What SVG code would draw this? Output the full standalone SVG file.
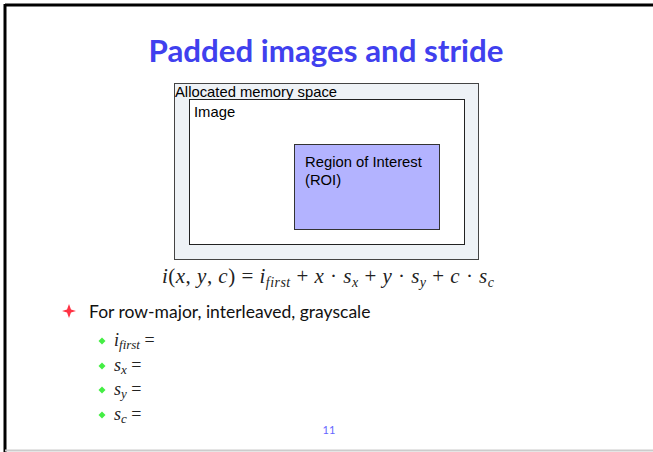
<svg xmlns="http://www.w3.org/2000/svg" width="653" height="452" viewBox="0 0 653 452">
<style>
.lbl{font-family:"Liberation Sans",Arial,sans-serif;font-size:14.8px;fill:#000}
.math{font-family:"Liberation Serif","Times New Roman",serif;font-style:italic;fill:#222}
.up{font-style:normal}
.body{font-family:Lato,"Open Sans",sans-serif;fill:#111}
</style>
<rect x="0" y="0" width="653" height="452" fill="#fff"/>
<line x1="5" y1="5" x2="653" y2="5" stroke="#000" stroke-width="3"/>
<line x1="5" y1="4" x2="5" y2="452" stroke="#000" stroke-width="3"/>
<line x1="5" y1="450.5" x2="653" y2="450.5" stroke="#ccc" stroke-width="2"/>
<text x="326" y="62" text-anchor="middle" textLength="355" lengthAdjust="spacingAndGlyphs" font-family="Lato,sans-serif" font-weight="bold" font-size="30" fill="#4040ee">Padded images and stride</text>
<g id="allocated">
<rect x="174.5" y="83.5" width="304" height="176" fill="#eef2f6" stroke="#444"/>
<text class="lbl" x="175" y="97">Allocated memory space</text>
</g>
<g id="image">
<rect x="189.5" y="99.5" width="275" height="145" fill="#fff" stroke="#222"/>
<text class="lbl" x="194" y="117">Image</text>
</g>
<g id="roi">
<rect x="294.5" y="144.5" width="145" height="85" fill="#b3b3ff" stroke="#333"/>
<text class="lbl" x="305" y="167">Region of Interest</text>
<text class="lbl" x="305" y="185">(ROI)</text>
</g>
<g id="connectors"></g>
<text class="math" x="162" y="283" font-size="21" textLength="332" lengthAdjust="spacing">i<tspan class="up">(</tspan>x<tspan class="up">, </tspan>y<tspan class="up">, </tspan>c<tspan class="up">) = </tspan>i<tspan font-size="14" dy="4">first</tspan><tspan class="up" dy="-4"> + </tspan>x<tspan class="up"> · </tspan>s<tspan font-size="14" dy="4">x</tspan><tspan class="up" dy="-4"> + </tspan>y<tspan class="up"> · </tspan>s<tspan font-size="14" dy="4">y</tspan><tspan class="up" dy="-4"> + </tspan>c<tspan class="up"> · </tspan>s<tspan font-size="14" dy="4">c</tspan></text>
<path d="M69 304 L71 309.5 L76 311 L71 312.5 L69 318 L67 312.5 L62 311 L67 309.5 Z" fill="#ff3344"/>
<text class="body" x="89" y="318" font-size="17.5">For row-major, interleaved, grayscale</text>
<g fill="#44ee44">
<path d="M102 337.5 L105.5 341 L102 344.5 L98.5 341 Z"/>
<path d="M102 362.5 L105.5 366 L102 369.5 L98.5 366 Z"/>
<path d="M102 386.5 L105.5 390 L102 393.5 L98.5 390 Z"/>
<path d="M102 411.5 L105.5 415 L102 418.5 L98.5 415 Z"/>
</g>
<text class="math" x="114" y="346" font-size="18">i<tspan font-size="13" dy="3">first</tspan><tspan class="up" dy="-3"> =</tspan></text>
<text class="math" x="114" y="371" font-size="18">s<tspan font-size="13" dy="3">x</tspan><tspan class="up" dy="-3"> =</tspan></text>
<text class="math" x="114" y="395" font-size="18">s<tspan font-size="13" dy="3">y</tspan><tspan class="up" dy="-3"> =</tspan></text>
<text class="math" x="114" y="420" font-size="18">s<tspan font-size="13" dy="3">c</tspan><tspan class="up" dy="-3"> =</tspan></text>
<text x="329" y="434" text-anchor="middle" font-family="Lato,sans-serif" font-size="11" fill="#6666ff">11</text>
</svg>
